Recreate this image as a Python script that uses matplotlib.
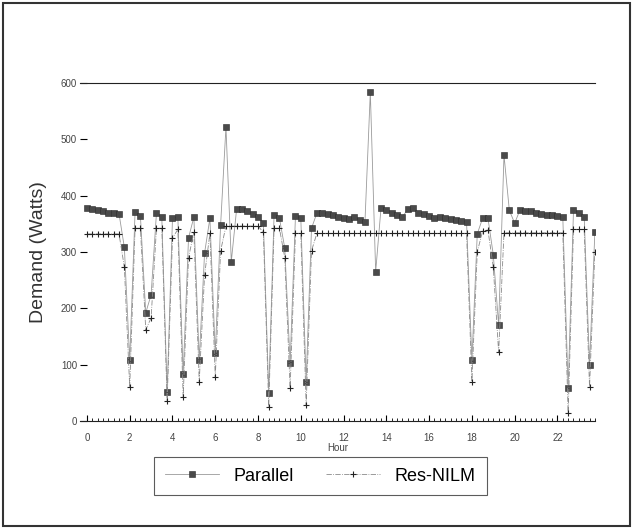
import numpy as np
import matplotlib
matplotlib.use('Agg')
import matplotlib.pyplot as plt
from matplotlib.patches import Rectangle

plt.rcParams['font.family'] = ['Liberation Sans', 'DejaVu Sans']

# Dados (intervalos de 15 min)
hours = np.arange(0, 24, 0.25)

parallel = [
    378, 377, 375, 372, 370, 369, 368,
    308, 108, 371, 364, 192, 224, 369, 362,
    52, 360, 362, 83, 325, 362, 108, 298,
    360, 120, 348, 522, 283, 377, 376, 373, 368, 362, 352,
    50, 366, 360, 307, 103, 364, 360, 70, 342, 369,
    370, 368, 365, 362, 360, 358, 362, 357, 354, 584, 265,
    378, 374, 370, 366, 362, 376, 378, 370, 368, 364, 360, 363, 360, 359, 357, 355, 353,
    108, 332, 360, 360, 295, 170, 472, 374, 351,
    375, 373, 372, 370, 368, 366, 365, 364, 362,
    59, 374, 370, 363, 99, 336,
]

res_nilm = [
    332, 332, 332, 332, 332, 332, 332,
    273, 60, 342, 342, 162, 183, 342, 342,
    35, 325, 340, 43, 290, 335, 70, 259,
    333, 78, 302, 346, 346, 346, 346, 346, 346, 346, 335,
    25, 342, 342, 290, 58, 333, 333, 28, 302, 333,
    333, 333, 333, 333, 333, 333, 333, 333, 333, 333, 333,
    333, 333, 333, 333, 333, 333, 333, 333, 333, 333, 333, 333, 333, 333, 333, 333, 333,
    70, 300, 337, 339, 273, 122, 334, 334, 334,
    334, 334, 334, 334, 334, 334, 334, 334, 334,
    14, 340, 340, 340, 60, 300,
]

xticks = list(range(0, 24, 2))
yticks = [0, 100, 200, 300, 400, 500, 600]

fig = plt.figure(figsize=(6.34, 5.29), dpi=100)
ax = fig.add_axes([0.126, 0.2042, 0.8123, 0.6389])

ax.plot(hours, parallel, '-', color='#9a9a9a', lw=0.6,
        marker='s', markersize=4.5, markerfacecolor='#4a4a4a',
        markeredgecolor='#2a2a2a', markeredgewidth=0.4, label='Parallel')
ax.plot(hours, res_nilm, '-.', color='#8a8a8a', lw=0.6,
        marker='+', markersize=5, markeredgecolor='#222222',
        markeredgewidth=0.8, label='Res-NILM')

ax.set_xlim(-0.33, 23.75)
ax.set_ylim(0, 600)
ax.set_xticks(xticks)
ax.set_xticks(np.arange(0, 24, 0.25), minor=True)
ax.set_yticks(yticks)
ax.tick_params(axis='x', which='major', direction='in', length=4,
               labelsize=7, labelcolor='#444444', pad=9)
ax.tick_params(axis='x', which='minor', direction='in', length=2)
ax.tick_params(axis='y', direction='in', length=5, labelsize=7,
               labelcolor='#444444', pad=2)

for s in ['left', 'right']:
    ax.spines[s].set_visible(False)
ax.spines['top'].set_color('#222222')
ax.spines['bottom'].set_color('#222222')

ax.set_xlabel('Hour', fontsize=7, color='#444444', labelpad=0)
ax.set_ylabel('Demand (Watts)', fontsize=14, color='#333333', labelpad=10)

leg = fig.legend(loc='center', bbox_to_anchor=(0.505, 0.10), ncol=2,
                 fontsize=13, frameon=True, fancybox=False,
                 edgecolor='#333333', handlelength=3.0, columnspacing=1.8,
                 borderpad=0.6)
leg.get_frame().set_linewidth(0.8)

# moldura da figura
fig.patches.append(Rectangle((0.005, 0.006), 0.989, 0.988,
                             transform=fig.transFigure, fill=False,
                             edgecolor='#333333', linewidth=1.5))

fig.savefig('out.png', dpi=100)
